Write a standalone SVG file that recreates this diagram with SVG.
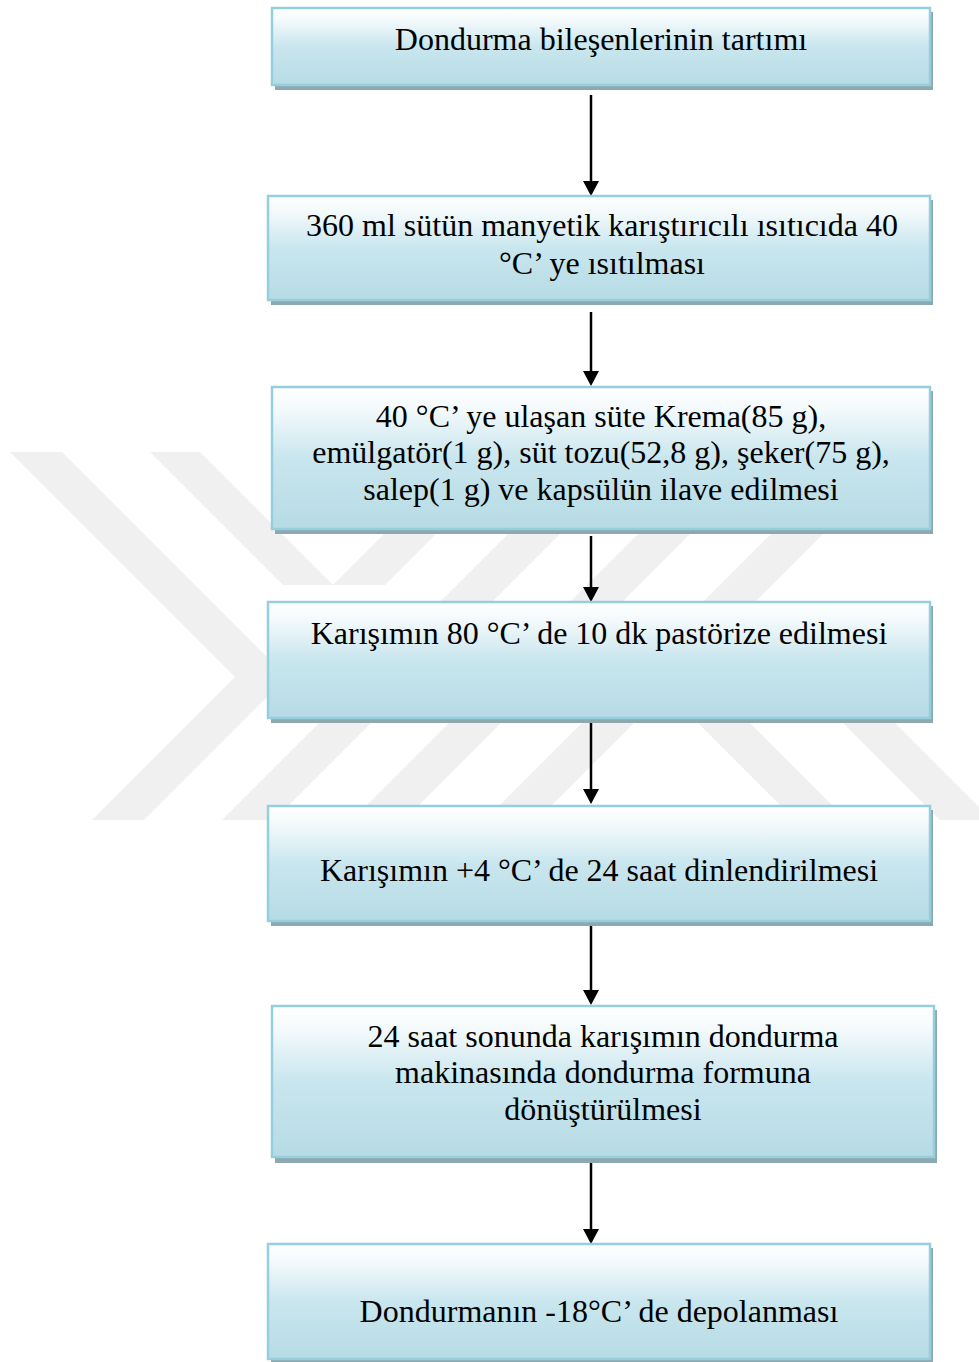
<svg xmlns="http://www.w3.org/2000/svg" width="979" height="1362" viewBox="0 0 979 1362">
<defs>
<linearGradient id="boxfill" x1="0" y1="0" x2="0" y2="1">
<stop offset="0" stop-color="#ffffff"/>
<stop offset="0.15" stop-color="#f4fafc"/>
<stop offset="0.5" stop-color="#c9e6ee"/>
<stop offset="1" stop-color="#b6dbe5"/>
</linearGradient>
<marker id="ah" viewBox="0 0 15 16" refX="1" refY="8" markerWidth="15" markerHeight="16" markerUnits="userSpaceOnUse" orient="auto">
<path d="M0,0 L15,8 L0,16 z" fill="#000"/>
</marker>
</defs>
<style>
.wm{fill:#f0f0f0;stroke:none}
.sh{fill:#8ea8b0}
.bx{fill:url(#boxfill);stroke:#95cfdd;stroke-width:2.5}
.t{font-family:"Liberation Serif","Times New Roman",serif;font-size:32px;fill:#000;text-anchor:middle}
.ar{stroke:#000;stroke-width:2.5;fill:none;marker-end:url(#ah)}
</style>
<rect width="979" height="1362" fill="#ffffff"/>
<g id="watermark">
<polygon class="wm" points="10,452 62,452 287,677 235,677"/>
<polygon class="wm" points="235,677 287,677 144,820 92,820"/>
<polygon class="wm" points="150,452 200,452 333,585 466,452 518,452 385,585 283,585"/>
<polygon class="wm" points="222,820 274,820 642,452 590,452"/>
<polygon class="wm" points="352,820 404,820 772,452 720,452"/>
<polygon class="wm" points="485,820 537,820 905,452 853,452"/>
<polygon class="wm" points="585,610 637,610 847,820 795,820"/>
<polygon class="wm" points="730,610 782,610 992,820 940,820"/>
</g>
<g id="connectors">
<line class="ar" x1="591" y1="95" x2="591" y2="182"/>
<line class="ar" x1="591" y1="312" x2="591" y2="372"/>
<line class="ar" x1="591" y1="536" x2="591" y2="588"/>
<line class="ar" x1="591" y1="717" x2="591" y2="790"/>
<line class="ar" x1="591" y1="921" x2="591" y2="991"/>
<line class="ar" x1="591" y1="1157" x2="591" y2="1230"/>
</g>
<g id="n1">
<rect class="sh" x="275" y="12" width="658" height="78"/>
<rect class="bx" x="272" y="8" width="658" height="77"/>
<text class="t" x="601" y="50">Dondurma bileşenlerinin tartımı</text>
</g>
<g id="n2">
<rect class="sh" x="271" y="200" width="662" height="105"/>
<rect class="bx" x="268" y="196" width="662" height="104"/>
<text class="t" x="602" y="236">360 ml sütün manyetik karıştırıcılı ısıtıcıda 40</text>
<text class="t" x="602" y="274">°C’ ye ısıtılması</text>
</g>
<g id="n3">
<rect class="sh" x="275" y="391" width="658" height="143"/>
<rect class="bx" x="272" y="387" width="658" height="142"/>
<text class="t" x="601" y="427">40 °C’ ye ulaşan süte Krema(85 g),</text>
<text class="t" x="601" y="463">emülgatör(1 g), süt tozu(52,8 g), şeker(75 g),</text>
<text class="t" x="601" y="500">salep(1 g) ve kapsülün ilave edilmesi</text>
</g>
<g id="n4">
<rect class="sh" x="271" y="606" width="662" height="117"/>
<rect class="bx" x="268" y="602" width="662" height="116"/>
<text class="t" x="599" y="644">Karışımın 80 °C’ de 10 dk pastörize edilmesi</text>
</g>
<g id="n5">
<rect class="sh" x="271" y="810" width="662" height="116"/>
<rect class="bx" x="268" y="806" width="662" height="115"/>
<text class="t" x="599" y="881">Karışımın +4 °C’ de 24 saat dinlendirilmesi</text>
</g>
<g id="n6">
<rect class="sh" x="275" y="1010" width="662" height="153"/>
<rect class="bx" x="272" y="1006" width="662" height="151"/>
<text class="t" x="603" y="1047">24 saat sonunda karışımın dondurma</text>
<text class="t" x="603" y="1083">makinasında dondurma formuna</text>
<text class="t" x="603" y="1120">dönüştürülmesi</text>
</g>
<g id="n7">
<rect class="sh" x="271" y="1248" width="662" height="116"/>
<rect class="bx" x="268" y="1244" width="662" height="115"/>
<text class="t" x="599" y="1322">Dondurmanın -18°C’ de depolanması</text>
</g>
</svg>
